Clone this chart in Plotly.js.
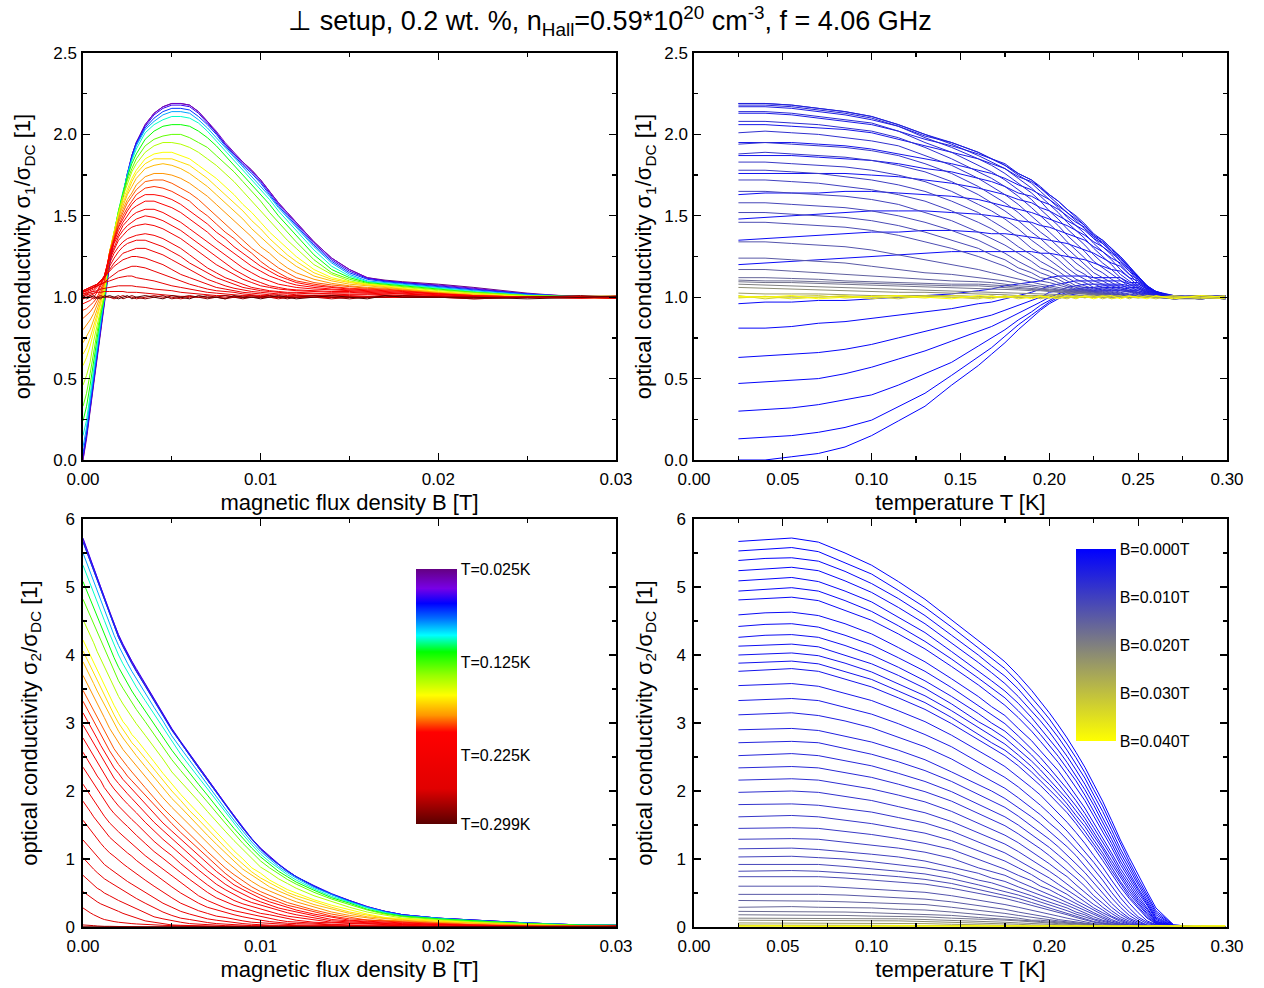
<!DOCTYPE html>
<html><head><meta charset="utf-8">
<script src="https://cdn.plot.ly/plotly-3.0.1.min.js"></script>
<style>html,body{margin:0;padding:0;background:#fff;}#chart{width:1264px;height:988px;}</style>
</head><body><div id="chart"></div>
<script>
// Temperatures of the curves (K)
const temperatures_K = [0.025,0.04,0.055,0.07,0.085,0.10,0.115,0.13,0.145,0.16,0.1675,0.175,0.1825,0.19,0.195,0.20,0.205,0.21,0.215,0.22,0.225,0.23,0.235,0.24,0.245,0.25,0.255,0.26,0.27,0.285,0.299];
// Magnetic flux densities (T)
const fields_T = [0,0.0002,0.0004,0.0006,0.0008,0.0010,0.0012,0.0015,0.00175,0.002,0.00225,0.0025,0.00275,0.003,0.0035,0.004,0.0045,0.005,0.0055,0.006,0.0065,0.007,0.0075,0.008,0.0085,0.009,0.0095,0.010,0.0105,0.011,0.0115,0.012,0.013,0.014,0.015,0.016,0.017,0.018,0.020,0.022,0.025,0.028,0.032,0.036,0.040];

// sigma1/sigmaDC : one row per temperature, one column per field
const sigma1_rows = [
[0.00,0.13,0.30,0.47,0.63,0.81,0.96,1.20,1.35,1.48,1.63,1.76,1.87,1.95,2.06,2.13,2.17,2.19,2.19,2.18,2.14,2.08,2.01,1.94,1.88,1.83,1.78,1.72,1.65,1.58,1.52,1.46,1.34,1.24,1.17,1.12,1.105,1.095,1.08,1.06,1.025,1.00,1.01,0.995,1.005],
[0.00,0.14,0.31,0.48,0.64,0.81,0.97,1.21,1.36,1.49,1.64,1.76,1.87,1.95,2.06,2.13,2.17,2.19,2.19,2.18,2.14,2.08,2.02,1.95,1.89,1.83,1.78,1.72,1.65,1.58,1.52,1.46,1.34,1.24,1.17,1.12,1.10,1.09,1.075,1.055,1.02,1.005,0.99,1.005,1.00],
[0.02,0.15,0.32,0.49,0.65,0.82,0.97,1.22,1.37,1.50,1.64,1.76,1.87,1.95,2.05,2.12,2.16,2.18,2.18,2.17,2.13,2.07,2.01,1.94,1.88,1.82,1.77,1.71,1.64,1.57,1.51,1.45,1.33,1.23,1.16,1.115,1.10,1.09,1.07,1.05,1.02,1.00,1.005,0.99,1.01],
[0.04,0.17,0.34,0.50,0.66,0.84,0.98,1.23,1.38,1.51,1.64,1.76,1.86,1.94,2.04,2.10,2.14,2.16,2.16,2.15,2.11,2.06,2.00,1.93,1.87,1.81,1.76,1.70,1.63,1.56,1.50,1.44,1.32,1.22,1.15,1.11,1.095,1.085,1.065,1.045,1.02,1.00,1.01,1.00,0.99],
[0.08,0.20,0.37,0.53,0.68,0.85,0.98,1.24,1.39,1.52,1.65,1.76,1.85,1.93,2.03,2.08,2.12,2.14,2.14,2.13,2.09,2.04,1.98,1.92,1.86,1.80,1.74,1.68,1.62,1.55,1.49,1.43,1.31,1.21,1.14,1.10,1.09,1.08,1.06,1.04,1.015,1.005,0.995,1.01,1.00],
[0.15,0.245,0.40,0.57,0.71,0.87,0.99,1.25,1.40,1.53,1.65,1.75,1.84,1.91,2.01,2.06,2.09,2.11,2.11,2.10,2.07,2.02,1.96,1.90,1.84,1.78,1.72,1.66,1.60,1.53,1.47,1.41,1.29,1.19,1.13,1.095,1.085,1.075,1.055,1.035,1.01,1.00,1.005,0.99,1.005],
[0.24,0.33,0.46,0.62,0.75,0.89,1.00,1.26,1.40,1.53,1.64,1.74,1.82,1.88,1.97,2.02,2.05,2.06,2.06,2.05,2.02,1.98,1.93,1.87,1.81,1.75,1.69,1.63,1.57,1.50,1.44,1.38,1.26,1.17,1.12,1.09,1.08,1.07,1.05,1.03,1.01,1.00,0.99,1.005,1.01],
[0.33,0.41,0.53,0.67,0.79,0.91,1.01,1.27,1.41,1.53,1.63,1.72,1.79,1.85,1.93,1.97,1.99,2.00,2.00,1.98,1.95,1.92,1.87,1.82,1.77,1.71,1.65,1.59,1.52,1.46,1.40,1.34,1.23,1.15,1.11,1.085,1.075,1.065,1.045,1.03,1.01,1.005,1.01,0.995,1.00],
[0.46,0.52,0.60,0.73,0.83,0.93,1.02,1.28,1.41,1.52,1.62,1.70,1.77,1.82,1.89,1.93,1.95,1.95,1.94,1.92,1.89,1.85,1.81,1.76,1.71,1.65,1.59,1.53,1.47,1.41,1.35,1.30,1.20,1.14,1.10,1.08,1.07,1.06,1.04,1.025,1.01,1.00,1.00,1.01,0.99],
[0.58,0.63,0.70,0.79,0.87,0.96,1.04,1.28,1.40,1.51,1.60,1.67,1.73,1.78,1.85,1.88,1.89,1.89,1.87,1.85,1.81,1.77,1.73,1.68,1.63,1.57,1.52,1.46,1.40,1.35,1.30,1.25,1.17,1.12,1.095,1.08,1.07,1.055,1.035,1.02,1.005,1.00,0.99,1.00,1.01],
[0.65,0.69,0.75,0.82,0.89,0.97,1.05,1.28,1.39,1.50,1.58,1.65,1.71,1.76,1.82,1.85,1.85,1.85,1.83,1.81,1.77,1.73,1.68,1.63,1.58,1.53,1.47,1.42,1.36,1.31,1.26,1.22,1.15,1.11,1.09,1.075,1.065,1.05,1.03,1.02,1.00,1.00,1.01,0.99,1.005],
[0.72,0.76,0.80,0.86,0.92,0.99,1.07,1.28,1.39,1.49,1.56,1.63,1.68,1.73,1.79,1.81,1.82,1.81,1.79,1.76,1.72,1.68,1.63,1.58,1.53,1.48,1.42,1.37,1.32,1.27,1.23,1.19,1.13,1.10,1.08,1.07,1.06,1.05,1.03,1.015,1.00,1.005,0.995,1.01,1.00],
[0.80,0.83,0.86,0.90,0.95,1.01,1.08,1.28,1.38,1.47,1.54,1.60,1.64,1.69,1.74,1.76,1.76,1.75,1.73,1.70,1.66,1.62,1.57,1.52,1.47,1.42,1.37,1.31,1.27,1.22,1.18,1.15,1.11,1.085,1.07,1.06,1.055,1.045,1.025,1.01,1.00,1.00,1.005,0.99,1.01],
[0.87,0.89,0.91,0.94,0.98,1.03,1.09,1.28,1.37,1.46,1.52,1.58,1.62,1.66,1.71,1.72,1.72,1.70,1.67,1.64,1.60,1.55,1.50,1.45,1.40,1.35,1.30,1.26,1.22,1.18,1.15,1.12,1.09,1.075,1.065,1.055,1.05,1.04,1.025,1.01,1.00,1.00,1.01,1.00,0.99],
[0.92,0.93,0.95,0.97,1.00,1.05,1.10,1.27,1.36,1.44,1.50,1.55,1.59,1.63,1.67,1.68,1.67,1.65,1.62,1.59,1.54,1.50,1.45,1.40,1.36,1.31,1.27,1.22,1.18,1.15,1.12,1.10,1.08,1.065,1.055,1.05,1.045,1.04,1.02,1.01,1.00,0.995,0.99,1.01,1.005],
[0.96,0.97,0.98,1.00,1.03,1.07,1.12,1.27,1.35,1.43,1.48,1.53,1.57,1.60,1.63,1.63,1.62,1.60,1.57,1.53,1.49,1.45,1.40,1.36,1.31,1.27,1.23,1.19,1.16,1.13,1.11,1.09,1.07,1.06,1.05,1.045,1.04,1.035,1.02,1.01,1.00,0.995,1.01,0.995,1.00],
[0.99,1.00,1.01,1.02,1.04,1.08,1.13,1.26,1.34,1.41,1.46,1.50,1.54,1.56,1.59,1.59,1.57,1.55,1.52,1.48,1.44,1.40,1.35,1.31,1.27,1.23,1.19,1.16,1.13,1.11,1.09,1.075,1.06,1.05,1.045,1.04,1.035,1.03,1.02,1.005,1.00,1.00,1.00,1.01,0.99],
[1.01,1.02,1.03,1.04,1.06,1.09,1.13,1.25,1.33,1.39,1.44,1.47,1.50,1.52,1.54,1.54,1.52,1.49,1.46,1.42,1.38,1.34,1.30,1.26,1.22,1.18,1.15,1.12,1.10,1.08,1.07,1.06,1.05,1.045,1.04,1.035,1.03,1.025,1.015,1.005,1.00,1.00,0.99,1.005,1.01],
[1.02,1.03,1.04,1.05,1.07,1.10,1.13,1.24,1.31,1.37,1.41,1.44,1.46,1.48,1.50,1.49,1.47,1.44,1.41,1.37,1.33,1.29,1.25,1.21,1.17,1.14,1.11,1.09,1.07,1.06,1.05,1.045,1.04,1.035,1.035,1.03,1.025,1.02,1.01,1.00,1.00,1.005,1.01,0.99,1.00],
[1.03,1.04,1.05,1.06,1.08,1.10,1.13,1.23,1.29,1.35,1.38,1.41,1.43,1.44,1.45,1.44,1.42,1.39,1.36,1.32,1.28,1.24,1.20,1.17,1.14,1.11,1.09,1.07,1.06,1.05,1.045,1.04,1.035,1.03,1.03,1.025,1.02,1.02,1.01,1.00,1.00,1.00,0.995,1.01,1.005],
[1.035,1.04,1.05,1.06,1.08,1.10,1.12,1.21,1.27,1.31,1.34,1.36,1.37,1.38,1.39,1.38,1.36,1.33,1.30,1.26,1.22,1.18,1.15,1.12,1.10,1.08,1.06,1.05,1.04,1.035,1.03,1.03,1.025,1.02,1.02,1.02,1.015,1.01,1.005,1.00,1.00,1.00,1.01,1.00,0.99],
[1.04,1.05,1.06,1.07,1.08,1.10,1.12,1.19,1.24,1.28,1.31,1.33,1.34,1.35,1.35,1.33,1.31,1.28,1.25,1.21,1.18,1.15,1.12,1.10,1.08,1.06,1.05,1.04,1.035,1.03,1.025,1.025,1.02,1.02,1.015,1.015,1.01,1.01,1.005,1.00,1.00,1.00,0.99,1.01,1.005],
[1.04,1.05,1.06,1.07,1.08,1.10,1.12,1.17,1.21,1.24,1.27,1.28,1.29,1.30,1.30,1.28,1.26,1.23,1.20,1.17,1.14,1.11,1.09,1.07,1.055,1.045,1.035,1.03,1.025,1.02,1.02,1.015,1.01,1.01,1.01,1.005,1.00,1.00,1.00,1.00,1.00,0.995,1.005,0.99,1.01],
[1.04,1.05,1.06,1.07,1.08,1.10,1.12,1.16,1.19,1.21,1.23,1.24,1.25,1.25,1.24,1.22,1.20,1.17,1.14,1.12,1.10,1.08,1.06,1.05,1.04,1.03,1.025,1.02,1.015,1.015,1.01,1.01,1.01,1.01,1.005,1.00,1.00,1.00,1.00,1.00,1.00,1.00,1.01,1.00,0.99],
[1.035,1.04,1.05,1.06,1.07,1.08,1.09,1.12,1.14,1.16,1.17,1.18,1.19,1.19,1.18,1.16,1.14,1.12,1.10,1.08,1.065,1.05,1.04,1.035,1.03,1.02,1.015,1.01,1.01,1.005,1.005,1.00,1.00,1.00,1.00,1.00,1.00,1.00,1.00,1.00,1.00,1.00,0.99,1.01,1.005],
[1.03,1.04,1.05,1.06,1.07,1.08,1.09,1.10,1.11,1.12,1.125,1.13,1.13,1.12,1.11,1.10,1.085,1.07,1.06,1.05,1.04,1.03,1.025,1.02,1.015,1.01,1.01,1.005,1.00,1.00,1.00,1.00,1.00,1.00,1.00,1.00,1.00,1.00,1.00,1.00,1.00,0.995,1.01,0.995,1.00],
[1.02,1.025,1.03,1.035,1.04,1.05,1.055,1.06,1.065,1.07,1.07,1.07,1.07,1.065,1.06,1.05,1.045,1.04,1.03,1.025,1.02,1.015,1.01,1.01,1.005,1.00,1.00,1.00,1.00,1.00,1.00,1.00,1.00,1.00,1.00,1.00,1.00,1.00,1.00,1.00,1.00,1.00,1.00,1.01,0.99],
[1.01,1.015,1.02,1.025,1.03,1.03,1.035,1.035,1.035,1.035,1.035,1.03,1.03,1.03,1.025,1.02,1.015,1.01,1.005,1.005,1.00,1.00,1.00,1.00,1.00,1.00,1.00,1.00,1.00,1.00,1.00,1.00,1.00,1.00,1.00,1.00,1.00,1.00,1.00,1.00,1.00,1.00,0.99,1.005,1.01],
[1.00,1.01,1.00,0.99,1.00,1.01,1.00,1.00,0.99,1.00,1.01,1.00,1.00,0.99,1.00,1.01,1.00,1.00,0.99,1.00,1.00,1.01,1.00,0.99,1.00,1.00,1.01,1.00,1.00,0.99,1.00,1.01,1.00,0.99,1.00,1.00,1.01,1.00,1.00,0.99,1.00,1.00,1.01,1.00,0.99],
[0.99,1.00,1.01,1.00,1.00,0.99,1.01,1.00,1.00,1.01,0.99,1.00,1.01,1.00,0.99,1.00,1.01,0.99,1.00,1.01,1.00,0.99,1.00,1.01,1.00,0.99,1.00,1.00,1.01,1.00,0.99,1.00,1.01,1.00,0.99,1.00,1.00,1.01,1.00,0.99,1.00,1.01,0.99,1.00,1.01],
[1.01,0.99,1.00,1.01,0.99,1.00,1.00,1.01,1.00,0.99,1.00,1.01,0.99,1.00,1.01,1.00,0.99,1.01,1.00,0.99,1.01,1.00,1.00,0.99,1.01,1.00,1.00,0.99,1.00,1.01,1.00,0.99,1.00,1.01,1.00,0.99,1.01,1.00,1.00,1.00,0.99,1.00,1.01,0.99,1.00]
];

// sigma2/sigmaDC : one row per temperature, one column per field
const sigma2_rows = [
[5.67,5.53,5.39,5.24,5.09,4.94,4.81,4.59,4.42,4.26,4.13,4.00,3.88,3.76,3.55,3.33,3.12,2.90,2.71,2.52,2.34,2.16,1.98,1.80,1.62,1.45,1.29,1.15,1.03,0.92,0.82,0.74,0.60,0.48,0.39,0.29,0.23,0.18,0.13,0.10,0.06,0.03,0.02,0.015,0.01],
[5.70,5.56,5.42,5.27,5.12,4.97,4.83,4.62,4.45,4.29,4.15,4.02,3.90,3.78,3.57,3.35,3.14,2.91,2.72,2.54,2.35,2.17,1.99,1.81,1.63,1.46,1.30,1.15,1.03,0.92,0.83,0.74,0.60,0.48,0.39,0.30,0.23,0.18,0.13,0.10,0.06,0.03,0.015,0.01,0.02],
[5.72,5.58,5.43,5.29,5.14,4.99,4.85,4.63,4.46,4.30,4.16,4.03,3.91,3.80,3.58,3.36,3.15,2.92,2.73,2.55,2.36,2.18,2.00,1.81,1.64,1.46,1.30,1.16,1.04,0.93,0.83,0.74,0.61,0.49,0.39,0.30,0.23,0.18,0.13,0.10,0.06,0.03,0.02,0.02,0.01],
[5.66,5.52,5.38,5.24,5.08,4.94,4.80,4.58,4.41,4.26,4.12,3.99,3.87,3.76,3.54,3.33,3.11,2.89,2.71,2.52,2.34,2.16,1.98,1.79,1.62,1.45,1.29,1.14,1.02,0.92,0.82,0.74,0.60,0.48,0.38,0.29,0.23,0.18,0.13,0.10,0.06,0.03,0.015,0.01,0.015],
[5.50,5.36,5.23,5.09,4.94,4.80,4.66,4.46,4.29,4.14,4.00,3.88,3.76,3.65,3.44,3.23,3.03,2.81,2.63,2.45,2.27,2.10,1.92,1.74,1.57,1.41,1.25,1.11,1.00,0.89,0.80,0.72,0.58,0.47,0.37,0.29,0.22,0.17,0.13,0.09,0.06,0.03,0.02,0.015,0.01],
[5.32,5.19,5.05,4.92,4.78,4.64,4.51,4.31,4.15,4.00,3.87,3.75,3.64,3.53,3.33,3.13,2.93,2.72,2.54,2.37,2.20,2.03,1.86,1.69,1.52,1.36,1.21,1.07,0.96,0.86,0.77,0.69,0.56,0.45,0.36,0.28,0.21,0.16,0.12,0.09,0.05,0.03,0.015,0.02,0.01],
[5.08,4.95,4.83,4.70,4.56,4.43,4.31,4.11,3.96,3.82,3.70,3.58,3.47,3.37,3.18,2.99,2.79,2.60,2.43,2.26,2.10,1.94,1.77,1.61,1.45,1.30,1.16,1.03,0.92,0.82,0.74,0.66,0.54,0.43,0.35,0.26,0.20,0.16,0.12,0.09,0.05,0.03,0.01,0.015,0.02],
[4.82,4.70,4.58,4.46,4.33,4.20,4.09,3.90,3.76,3.62,3.51,3.40,3.30,3.20,3.02,2.83,2.65,2.46,2.30,2.14,1.99,1.84,1.68,1.53,1.38,1.23,1.10,0.97,0.87,0.78,0.70,0.63,0.51,0.41,0.33,0.25,0.19,0.15,0.11,0.08,0.05,0.02,0.02,0.01,0.015],
[4.52,4.41,4.29,4.18,4.05,3.94,3.83,3.65,3.52,3.39,3.28,3.18,3.08,2.99,2.82,2.65,2.47,2.28,2.14,1.99,1.85,1.70,1.55,1.41,1.27,1.14,1.01,0.88,0.80,0.71,0.64,0.57,0.46,0.37,0.29,0.22,0.17,0.13,0.10,0.07,0.04,0.02,0.015,0.02,0.01],
[4.22,4.11,4.00,3.89,3.77,3.66,3.56,3.39,3.26,3.14,3.02,2.94,2.83,2.76,2.60,2.43,2.26,2.10,1.95,1.81,1.67,1.53,1.39,1.25,1.12,1.00,0.87,0.79,0.69,0.62,0.55,0.50,0.40,0.32,0.25,0.19,0.14,0.12,0.09,0.06,0.03,0.02,0.01,0.015,0.02],
[4.06,3.95,3.84,3.74,3.62,3.51,3.41,3.24,3.12,3.00,2.91,2.81,2.71,2.64,2.48,2.32,2.15,2.00,1.86,1.71,1.58,1.44,1.30,1.17,1.04,0.92,0.81,0.72,0.65,0.57,0.51,0.46,0.37,0.29,0.22,0.17,0.13,0.11,0.08,0.06,0.03,0.01,0.02,0.01,0.015],
[3.90,3.80,3.69,3.58,3.47,3.37,3.26,3.11,2.99,2.88,2.78,2.69,2.60,2.52,2.36,2.20,2.04,1.89,1.76,1.62,1.49,1.35,1.22,1.09,0.97,0.85,0.76,0.67,0.59,0.53,0.47,0.42,0.33,0.26,0.20,0.15,0.12,0.10,0.07,0.05,0.03,0.01,0.015,0.02,0.01],
[3.70,3.60,3.50,3.39,3.29,3.18,3.08,2.92,2.81,2.71,2.61,2.53,2.45,2.37,2.21,2.06,1.90,1.76,1.63,1.50,1.37,1.24,1.11,0.98,0.87,0.76,0.67,0.59,0.53,0.47,0.42,0.37,0.29,0.22,0.17,0.13,0.10,0.09,0.06,0.04,0.02,0.01,0.01,0.015,0.02],
[3.48,3.38,3.28,3.18,3.08,2.98,2.88,2.74,2.62,2.53,2.44,2.36,2.28,2.20,2.05,1.90,1.75,1.62,1.49,1.36,1.24,1.11,0.99,0.87,0.77,0.68,0.59,0.52,0.46,0.41,0.36,0.32,0.25,0.19,0.14,0.10,0.09,0.08,0.05,0.03,0.02,0.01,0.02,0.01,0.015],
[3.32,3.22,3.12,3.03,2.92,2.83,2.73,2.59,2.49,2.39,2.31,2.22,2.15,2.08,1.94,1.79,1.65,1.52,1.39,1.27,1.15,1.02,0.91,0.79,0.69,0.60,0.53,0.47,0.41,0.37,0.32,0.29,0.22,0.16,0.12,0.10,0.08,0.07,0.05,0.03,0.01,0.01,0.015,0.02,0.01],
[3.15,3.06,2.96,2.87,2.77,2.67,2.58,2.44,2.34,2.26,2.17,2.10,2.03,1.95,1.81,1.67,1.53,1.41,1.29,1.17,1.05,0.93,0.82,0.72,0.62,0.55,0.48,0.42,0.37,0.33,0.29,0.25,0.19,0.14,0.10,0.085,0.07,0.06,0.04,0.025,0.01,0.01,0.01,0.015,0.02],
[2.97,2.88,2.79,2.69,2.60,2.51,2.42,2.30,2.19,2.11,2.03,1.96,1.89,1.82,1.68,1.54,1.42,1.30,1.18,1.06,0.94,0.83,0.73,0.63,0.55,0.48,0.42,0.37,0.32,0.28,0.25,0.22,0.16,0.11,0.09,0.07,0.06,0.05,0.03,0.02,0.01,0.00,0.02,0.01,0.015],
[2.78,2.69,2.60,2.51,2.42,2.33,2.24,2.12,2.03,1.95,1.88,1.81,1.75,1.68,1.54,1.41,1.29,1.18,1.06,0.95,0.84,0.74,0.63,0.55,0.48,0.41,0.36,0.32,0.28,0.24,0.21,0.18,0.13,0.09,0.075,0.06,0.05,0.04,0.03,0.015,0.01,0.00,0.015,0.02,0.01],
[2.57,2.49,2.40,2.31,2.22,2.15,2.05,1.94,1.86,1.78,1.71,1.64,1.58,1.52,1.39,1.26,1.15,1.05,0.93,0.82,0.72,0.62,0.53,0.46,0.39,0.34,0.30,0.26,0.22,0.19,0.16,0.14,0.10,0.07,0.06,0.05,0.04,0.03,0.02,0.01,0.00,0.00,0.01,0.015,0.02],
[2.35,2.27,2.19,2.10,2.02,1.94,1.86,1.75,1.67,1.60,1.54,1.48,1.41,1.35,1.23,1.11,1.01,0.90,0.80,0.70,0.60,0.51,0.43,0.37,0.32,0.28,0.24,0.20,0.18,0.15,0.12,0.10,0.07,0.06,0.05,0.04,0.03,0.02,0.01,0.00,0.00,0.00,0.02,0.01,0.015],
[2.10,2.02,1.94,1.86,1.79,1.71,1.63,1.53,1.46,1.40,1.34,1.28,1.22,1.17,1.05,0.95,0.85,0.75,0.65,0.55,0.46,0.39,0.33,0.28,0.24,0.21,0.18,0.15,0.12,0.10,0.08,0.07,0.05,0.04,0.03,0.03,0.02,0.02,0.01,0.00,0.00,0.00,0.015,0.02,0.01],
[1.85,1.78,1.70,1.62,1.55,1.48,1.41,1.32,1.26,1.20,1.15,1.09,1.04,0.98,0.88,0.78,0.69,0.59,0.50,0.42,0.35,0.29,0.25,0.21,0.18,0.15,0.12,0.10,0.08,0.065,0.055,0.05,0.04,0.03,0.024,0.017,0.013,0.01,0.00,0.00,0.00,0.00,0.01,0.015,0.02],
[1.57,1.50,1.43,1.36,1.29,1.23,1.17,1.09,1.04,0.98,0.93,0.88,0.83,0.78,0.69,0.60,0.51,0.43,0.35,0.29,0.24,0.20,0.16,0.14,0.11,0.09,0.07,0.06,0.05,0.04,0.036,0.03,0.025,0.02,0.01,0.01,0.01,0.005,0.00,0.00,0.00,0.00,0.02,0.01,0.015],
[1.28,1.22,1.15,1.09,1.03,0.97,0.92,0.86,0.81,0.77,0.72,0.67,0.63,0.59,0.51,0.43,0.35,0.29,0.23,0.19,0.15,0.12,0.10,0.08,0.06,0.05,0.04,0.03,0.027,0.025,0.022,0.02,0.013,0.01,0.005,0.00,0.00,0.00,0.00,0.00,0.00,0.00,0.015,0.02,0.01],
[1.02,0.96,0.91,0.85,0.80,0.75,0.71,0.66,0.62,0.57,0.53,0.49,0.45,0.42,0.35,0.28,0.22,0.17,0.13,0.11,0.085,0.066,0.05,0.04,0.03,0.025,0.02,0.02,0.015,0.015,0.01,0.01,0.005,0.00,0.00,0.00,0.00,0.00,0.00,0.00,0.00,0.00,0.01,0.015,0.02],
[0.76,0.71,0.66,0.62,0.57,0.54,0.50,0.46,0.42,0.39,0.36,0.33,0.30,0.27,0.21,0.15,0.12,0.09,0.07,0.05,0.04,0.03,0.025,0.02,0.017,0.015,0.012,0.01,0.008,0.005,0.00,0.00,0.00,0.00,0.00,0.00,0.00,0.00,0.00,0.00,0.00,0.00,0.02,0.01,0.015],
[0.52,0.48,0.44,0.40,0.37,0.34,0.32,0.28,0.26,0.23,0.20,0.18,0.15,0.13,0.09,0.07,0.05,0.03,0.025,0.02,0.015,0.01,0.01,0.005,0.00,0.00,0.00,0.00,0.00,0.00,0.00,0.00,0.00,0.00,0.00,0.00,0.00,0.00,0.00,0.00,0.00,0.00,0.015,0.02,0.01],
[0.28,0.24,0.21,0.18,0.15,0.13,0.11,0.09,0.08,0.07,0.06,0.055,0.05,0.045,0.035,0.03,0.025,0.02,0.017,0.015,0.012,0.01,0.008,0.005,0.00,0.00,0.00,0.00,0.00,0.00,0.00,0.00,0.00,0.00,0.00,0.00,0.00,0.00,0.00,0.00,0.00,0.00,0.01,0.015,0.02],
[0.03,0.03,0.02,0.02,0.015,0.01,0.01,0.01,0.008,0.005,0.005,0.005,0.00,0.00,0.00,0.00,0.00,0.00,0.00,0.00,0.00,0.00,0.00,0.00,0.00,0.00,0.00,0.00,0.00,0.00,0.00,0.00,0.00,0.00,0.00,0.00,0.00,0.00,0.00,0.00,0.00,0.00,0.02,0.01,0.015],
[0.00,0.00,0.00,0.00,0.00,0.00,0.00,0.00,0.00,0.00,0.00,0.00,0.00,0.00,0.00,0.00,0.00,0.00,0.00,0.00,0.00,0.00,0.00,0.00,0.00,0.00,0.00,0.00,0.00,0.00,0.00,0.00,0.00,0.00,0.00,0.00,0.00,0.00,0.00,0.00,0.00,0.00,0.015,0.02,0.01],
[0.00,0.00,0.00,0.00,0.00,0.00,0.00,0.00,0.00,0.00,0.00,0.00,0.00,0.00,0.00,0.00,0.00,0.00,0.00,0.00,0.00,0.00,0.00,0.00,0.00,0.00,0.00,0.00,0.00,0.00,0.00,0.00,0.00,0.00,0.00,0.00,0.00,0.00,0.00,0.00,0.00,0.00,0.01,0.015,0.02]
];

// colour-bar tick labels
const tempBarTicks = [0.025,0.125,0.225,0.299];
const tempBarLabels = ['T=0.025K','T=0.125K','T=0.225K','T=0.299K'];
const fieldBarTicks = [0.000,0.010,0.020,0.030,0.040];
const fieldBarLabels = ['B=0.000T','B=0.010T','B=0.020T','B=0.030T','B=0.040T'];

// sanity check of table shapes
if (sigma1_rows.length !== temperatures_K.length || sigma2_rows.length !== temperatures_K.length) throw new Error('row count mismatch');
sigma1_rows.forEach((r,i)=>{ if (r.length !== fields_T.length) throw new Error('sigma1 row '+i+' has '+r.length); });
sigma2_rows.forEach((r,i)=>{ if (r.length !== fields_T.length) throw new Error('sigma2 row '+i+' has '+r.length); });

// ---- colour scales (position 0 = bottom of colour bar) ----
const T_MIN = 0.025, T_MAX = 0.299, B_MAX = 0.040;
const tempStops = [[0,[90,0,0]],[0.138,[225,0,0]],[0.36,[255,0,0]],[0.426,[255,150,0]],[0.505,[255,255,0]],[0.583,[150,255,0]],[0.675,[0,255,0]],[0.74,[0,255,255]],[0.806,[0,110,255]],[0.865,[0,0,255]],[0.924,[120,0,230]],[1,[100,0,130]]];
const fieldStops = [[0,[255,255,0]],[1,[0,0,255]]];
function interp(stops, p){
  p = Math.max(0, Math.min(1, p));
  for (let i = 1; i < stops.length; i++){
    if (p <= stops[i][0]){
      const a = stops[i-1], b = stops[i];
      const f = (p - a[0]) / (b[0] - a[0]);
      const c = a[1].map((v,k)=>Math.round(v + f*(b[1][k]-v)));
      return 'rgb(' + c.join(',') + ')';
    }
  }
  return 'rgb(' + stops[stops.length-1][1].join(',') + ')';
}
const toPlotlyScale = s => s.map(([p,c]) => [p, 'rgb(' + c.join(',') + ')']);
const tempColor = T => interp(tempStops, (T_MAX - T)/(T_MAX - T_MIN));
const fieldColor = B => interp(fieldStops, 1 - B/B_MAX);

const traces = [];
temperatures_K.forEach((T, i) => {
  traces.push({x: fields_T, y: sigma1_rows[i], xaxis:'x', yaxis:'y', mode:'lines', line:{color:tempColor(T), width:1}, hoverinfo:'skip', showlegend:false});
});
temperatures_K.forEach((T, i) => {
  traces.push({x: fields_T, y: sigma2_rows[i], xaxis:'x3', yaxis:'y3', mode:'lines', line:{color:tempColor(T), width:1}, hoverinfo:'skip', showlegend:false});
});
fields_T.forEach((B, j) => {
  traces.push({x: temperatures_K, y: sigma1_rows.map(r => r[j]), xaxis:'x2', yaxis:'y2', mode:'lines', line:{color:fieldColor(B), width:1}, hoverinfo:'skip', showlegend:false});
});
fields_T.forEach((B, j) => {
  traces.push({x: temperatures_K, y: sigma2_rows.map(r => r[j]), xaxis:'x4', yaxis:'y4', mode:'lines', line:{color:fieldColor(B), width:1}, hoverinfo:'skip', showlegend:false});
});

traces.push({x:[-1], y:[-1], xaxis:'x3', yaxis:'y3', mode:'markers', hoverinfo:'skip', showlegend:false,
  marker:{size:1, color:[-0.1], cmin:-T_MAX, cmax:-T_MIN, colorscale:toPlotlyScale(tempStops), showscale:true,
    colorbar:{x:416/1264, xanchor:'left', y:1-569/988, yanchor:'top', len:255, lenmode:'pixels', thickness:41, thicknessmode:'pixels',
      outlinewidth:0, ticks:'', tickvals:tempBarTicks.map(v=>-v), ticktext:tempBarLabels, tickfont:{size:16, color:'#000'}, xpad:0, ypad:0}}});
traces.push({x:[-1], y:[-1], xaxis:'x4', yaxis:'y4', mode:'markers', hoverinfo:'skip', showlegend:false,
  marker:{size:1, color:[-0.02], cmin:-B_MAX, cmax:0, colorscale:toPlotlyScale(fieldStops), showscale:true,
    colorbar:{x:1076/1264, xanchor:'left', y:1-549/988, yanchor:'top', len:192, lenmode:'pixels', thickness:40, thicknessmode:'pixels',
      outlinewidth:0, ticks:'', tickvals:fieldBarTicks.map(v=>-v), ticktext:fieldBarLabels, tickfont:{size:16, color:'#000'}, xpad:0, ypad:0}}});

const W = 1264, H = 988;
const xLeft = [83/W, 616/W], xRight = [694/W, 1227/W];
const yTop = [1-460/H, 1-53/H], yBot = [1-927/H, 1-519/H];
function axis(domain, range, dtick, minor, fmt, anchor, title, standoff, labelGap){
  return {domain, range, anchor, dtick, tick0:0, tickformat:fmt, ticks:'inside', ticklen:7, tickwidth:1.3, tickcolor:'#000',
    minor:{dtick:minor, ticks:'inside', ticklen:4, tickwidth:1.3, tickcolor:'#000', showgrid:false},
    showline:true, linewidth:1.6, linecolor:'#000', mirror:'ticks', showgrid:false, zeroline:false, automargin:false,
    ticklabelstandoff:labelGap,
    tickfont:{size:17, color:'#000'}, title:{text:title, font:{size:22, color:'#000'}, standoff:standoff}};
}
const s1title = 'optical conductivity σ<sub>1</sub>/σ<sub>DC</sub> [1]';
const s2title = 'optical conductivity σ<sub>2</sub>/σ<sub>DC</sub> [1]';
const layout = {
  width:W, height:H, margin:{l:0, r:0, t:0, b:0}, paper_bgcolor:'#fff', plot_bgcolor:'#fff',
  font:{family:'"Liberation Sans", Arial, sans-serif', color:'#000'},
  title:{text:'⊥ setup, 0.2 wt. %, n<sub>Hall</sub>=0.59*10<sup>20</sup> cm<sup>-3</sup>, f = 4.06 GHz', font:{size:27, color:'#000'},
    x:610/W, xanchor:'center', xref:'paper', y:1-21/H, yref:'container', yanchor:'middle'},
  xaxis: axis(xLeft, [0,0.03], 0.01, 0.005, '.2f', 'y', 'magnetic flux density B [T]', 6, 3),
  yaxis: axis(yTop, [0,2.5], 0.5, 0.25, '.1f', 'x', s1title, 16, 1),
  xaxis2: axis(xRight, [0,0.30], 0.05, 0.025, '.2f', 'y2', 'temperature T [K]', 6, 3),
  yaxis2: axis(yTop, [0,2.5], 0.5, 0.25, '.1f', 'x2', s1title, 6, 1),
  xaxis3: axis(xLeft, [0,0.03], 0.01, 0.005, '.2f', 'y3', 'magnetic flux density B [T]', 6, 3),
  yaxis3: axis(yBot, [0,6], 1, 0.5, 'd', 'x3', s2title, 22, 3),
  xaxis4: axis(xRight, [0,0.30], 0.05, 0.025, '.2f', 'y4', 'temperature T [K]', 6, 3),
  yaxis4: axis(yBot, [0,6], 1, 0.5, 'd', 'x4', s2title, 18, 3),
  showlegend:false, hovermode:false
};
Plotly.newPlot('chart', traces, layout, {staticPlot:true, displayModeBar:false});
</script></body></html>
